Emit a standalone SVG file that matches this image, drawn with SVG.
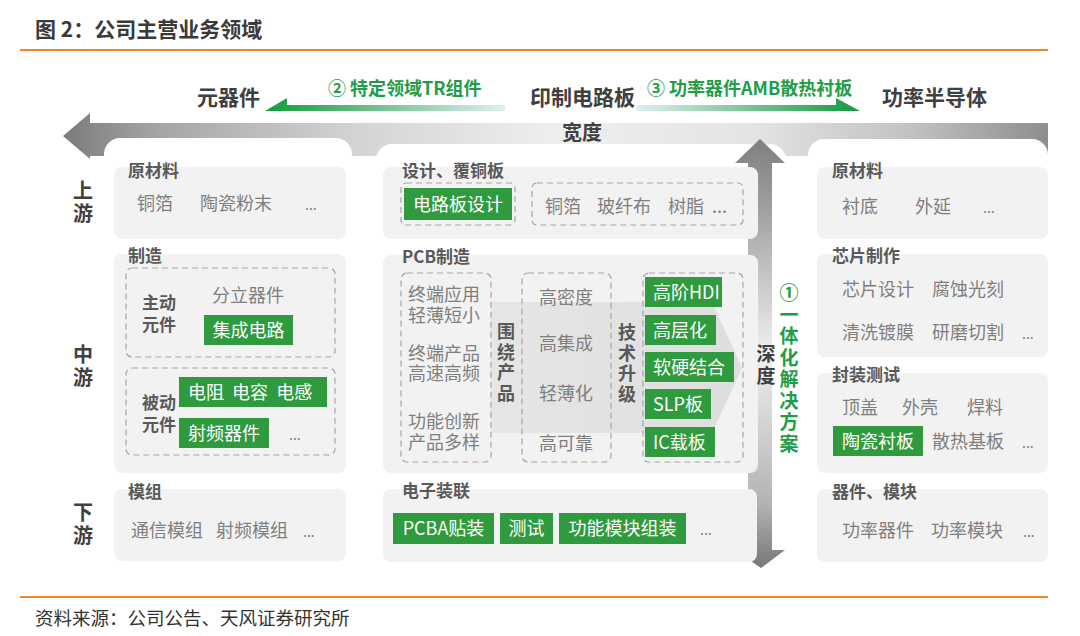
<svg xmlns="http://www.w3.org/2000/svg" width="1080" height="636" viewBox="0 0 1080 636">
<defs>
<linearGradient id="gBand" gradientUnits="userSpaceOnUse" x1="63" y1="0" x2="1048" y2="0">
<stop offset="0" stop-color="#7b7b7b"/><stop offset="0.1" stop-color="#a6a6a6"/><stop offset="0.3" stop-color="#d4d4d4"/><stop offset="0.5" stop-color="#efefef"/><stop offset="0.7" stop-color="#e4e4e4"/><stop offset="0.86" stop-color="#c2c2c2"/><stop offset="1" stop-color="#8e8e8e"/>
</linearGradient>
<linearGradient id="gVert" gradientUnits="userSpaceOnUse" x1="0" y1="139" x2="0" y2="568">
<stop offset="0" stop-color="#7f7f7f"/><stop offset="0.15" stop-color="#9d9d9d"/><stop offset="0.5" stop-color="#f0f0f0"/><stop offset="0.85" stop-color="#b3b3b3"/><stop offset="1" stop-color="#777"/>
</linearGradient>
<linearGradient id="gLeft" gradientUnits="userSpaceOnUse" x1="265" y1="0" x2="505" y2="0">
<stop offset="0" stop-color="#139a3c"/><stop offset="0.35" stop-color="#5bb77a"/><stop offset="1" stop-color="#e2eff0"/>
</linearGradient>
<linearGradient id="gRight" gradientUnits="userSpaceOnUse" x1="636" y1="0" x2="860" y2="0">
<stop offset="0" stop-color="#e2eff0"/><stop offset="0.65" stop-color="#5bb77a"/><stop offset="1" stop-color="#139a3c"/>
</linearGradient>
<linearGradient id="gChev" gradientUnits="userSpaceOnUse" x1="491" y1="0" x2="742" y2="0">
<stop offset="0" stop-color="#e6e6e6"/><stop offset="1" stop-color="#dedede"/>
</linearGradient>
</defs>
<style>
text{font-family:"Noto Sans CJK SC","Noto Sans",sans-serif}
.tight{font-family:"Liberation Sans","Noto Sans CJK SC",sans-serif}
.ttl{font-size:21px;font-weight:bold;fill:#3a3a3a}
.src{font-size:18.5px;fill:#333}
.lbl{font-size:21px;font-weight:bold;fill:#404040}
.glbl{font-size:18px;font-weight:bold;fill:#1f9d48}
.side{font-size:20px;font-weight:bold;fill:#404040;text-anchor:middle}
.pt{font-size:17px;font-weight:bold;fill:#595959}
.it{font-size:18px;fill:#7f7f7f}
.dots{font-size:14px;fill:#7f7f7f}
.sub{font-size:17px;font-weight:bold;fill:#595959}
.vt{font-size:18px;font-weight:bold;fill:#595959;text-anchor:middle}
.panel{fill:#f2f2f2}
.dash{fill:none;stroke:#a6a6a6;stroke-width:1.2;stroke-dasharray:6 4}
.gb{fill:#2f9a3e}
.gt{font-size:18px;fill:#fff}
.gtc{font-size:18px;fill:#fff;text-anchor:middle}
.orange{stroke:#f0882e;stroke-width:2}
</style>
<rect width="1080" height="636" fill="#fff"/>
<text class="ttl" x="35" y="37">图 2：公司主营业务领域</text>
<line class="orange" x1="20" y1="50" x2="1048" y2="50"/>
<line class="orange" x1="20" y1="597" x2="1048" y2="597"/>
<text class="src" x="35" y="625">资料来源：公司公告、天风证券研究所</text>

<g id="connectors">
<polygon points="63,136 90,113 90,123 1048,123 1048,156 90,156 90,159" fill="url(#gBand)"/>
<rect x="104" y="138" width="248" height="60" rx="16" fill="#fff"/>
<rect x="376" y="144" width="410" height="60" rx="16" fill="#fff"/>
<rect x="808" y="139" width="240" height="60" rx="16" fill="#fff"/>
<polygon points="760,139 785,163 772,163 772,550 785,550 761,568 735,550 748,550 748,163 735,163" fill="url(#gVert)"/>
<polygon points="265,111 287,98 287,105 505,105 505,111" fill="url(#gLeft)"/>
<polygon points="636,105 836,105 836,98 860,111 636,111" fill="url(#gRight)"/>
</g>

<g id="top-labels">
<text class="lbl" x="197" y="105">元器件</text>
<text class="glbl" x="328" y="95">② 特定领域TR组件</text>
<text class="lbl" x="530" y="105">印制电路板</text>
<text class="glbl" x="647" y="95">③ 功率器件AMB散热衬板</text>
<text class="lbl" x="882" y="105">功率半导体</text>
<text class="lbl" x="582" y="140" text-anchor="middle" style="font-size:20px">宽度</text>
</g>

<g id="side-labels">
<text class="side tight"><tspan x="83" y="198">上</tspan><tspan x="83" y="221">游</tspan></text>
<text class="side tight"><tspan x="83" y="362">中</tspan><tspan x="83" y="385">游</tspan></text>
<text class="side tight"><tspan x="83" y="520">下</tspan><tspan x="83" y="543">游</tspan></text>
</g>

<g id="left-raw">
<rect class="panel" x="114" y="167" width="232" height="72" rx="8"/>
<text class="pt" x="128" y="177">原材料</text>
<text class="it" x="137" y="209.5">铜箔</text>
<text class="it" x="200" y="209.5">陶瓷粉末</text>
<text class="dots" x="305" y="209.5">...</text>
</g>

<g id="left-mfg">
<rect class="panel" x="114" y="254" width="232" height="219" rx="8"/>
<text class="pt" x="128" y="262">制造</text>
<rect class="dash" x="126" y="268" width="209" height="89" rx="6"/>
<text class="sub tight"><tspan x="142" y="309">主动</tspan><tspan x="142" y="331">元件</tspan></text>
<text class="it" x="212" y="301.5">分立器件</text>
<rect class="gb" x="204" y="315" width="89" height="30"/>
<text class="gtc" x="248.5" y="336.5">集成电路</text>
<rect class="dash" x="126" y="368" width="209" height="87" rx="6"/>
<text class="sub tight"><tspan x="142" y="409">被动</tspan><tspan x="142" y="431">元件</tspan></text>
<rect class="gb" x="179" y="377" width="148" height="30"/>
<text class="gt" x="188" y="398.5" xml:space="preserve">电阻  电容  电感</text>
<rect class="gb" x="179" y="418" width="90" height="30"/>
<text class="gtc" x="224" y="439.5">射频器件</text>
<text class="dots" x="289" y="440">...</text>
</g>

<g id="left-module">
<rect class="panel" x="114" y="489" width="232" height="72" rx="8"/>
<text class="pt" x="128" y="498">模组</text>
<text class="it" x="131" y="536.5">通信模组</text>
<text class="it" x="216" y="536.5">射频模组</text>
<text class="dots" x="303" y="536.5">...</text>
</g>

<g id="mid-design">
<rect class="panel" x="383" y="167" width="375" height="72" rx="8"/>
<text class="pt" x="402" y="177">设计、覆铜板</text>
<rect class="dash" x="401" y="183" width="114" height="42" rx="5"/>
<rect class="gb" x="404" y="188" width="108" height="32"/>
<text class="gtc" x="458" y="210.5">电路板设计</text>
<rect class="dash" x="532" y="183" width="211" height="42" rx="5"/>
<text class="it" x="545" y="212.5">铜箔</text>
<text class="it" x="597" y="212.5">玻纤布</text>
<text class="it" x="668" y="212.5">树脂</text>
<text class="it" x="712" y="212.5">...</text>
</g>

<g id="mid-pcb">
<rect class="panel" x="383" y="255" width="375" height="218" rx="8"/>
<text class="pt" x="402" y="263">PCB制造</text>
<polygon points="491,302 712,302 742,368 712,433 491,433" fill="url(#gChev)"/>
<rect class="dash" x="401" y="273" width="90" height="189" rx="6"/>
<text class="it tight"><tspan x="408" y="301">终端应用</tspan><tspan x="408" y="321.5">轻薄短小</tspan></text>
<text class="it tight"><tspan x="408" y="359.5">终端产品</tspan><tspan x="408" y="380">高速高频</tspan></text>
<text class="it tight"><tspan x="408" y="428">功能创新</tspan><tspan x="408" y="448.5">产品多样</tspan></text>
<text class="vt tight"><tspan x="506" y="338">围</tspan><tspan x="506" y="358.5">绕</tspan><tspan x="506" y="379">产</tspan><tspan x="506" y="399.5">品</tspan></text>
<rect class="dash" x="522" y="273" width="89" height="189" rx="6"/>
<text class="it" x="566" y="303.5" text-anchor="middle">高密度</text>
<text class="it" x="566" y="349.5" text-anchor="middle">高集成</text>
<text class="it" x="566" y="399.5" text-anchor="middle">轻薄化</text>
<text class="it" x="566" y="449.5" text-anchor="middle">高可靠</text>
<text class="vt tight"><tspan x="627" y="339">技</tspan><tspan x="627" y="359.5">术</tspan><tspan x="627" y="380">升</tspan><tspan x="627" y="400.5">级</tspan></text>
<rect class="dash" x="643" y="273" width="100" height="189" rx="6"/>
<rect class="gb" x="645" y="277" width="77" height="30"/><text class="gt" x="653" y="298.5">高阶HDI</text>
<rect class="gb" x="645" y="315" width="71" height="30"/><text class="gt" x="653" y="336.5">高层化</text>
<rect class="gb" x="645" y="352" width="89" height="30"/><text class="gt" x="653" y="373.5">软硬结合</text>
<rect class="gb" x="645" y="389" width="66" height="30"/><text class="gt" x="653" y="410.5">SLP板</text>
<rect class="gb" x="645" y="427" width="70" height="30"/><text class="gt" x="653" y="448.5">IC载板</text>
</g>

<g id="mid-assembly">
<rect class="panel" x="383" y="489" width="374" height="73" rx="8"/>
<text class="pt" x="402" y="497">电子装联</text>
<rect class="gb" x="393" y="513" width="101" height="31"/><text class="gtc" x="443.5" y="535">PCBA贴装</text>
<rect class="gb" x="500" y="513" width="53" height="31"/><text class="gtc" x="526.5" y="535">测试</text>
<rect class="gb" x="559" y="513" width="127" height="31"/><text class="gtc" x="622.5" y="535">功能模块组装</text>
<text class="dots" x="700" y="535">...</text>
</g>

<g id="depth-labels">
<text class="lbl tight" text-anchor="middle" style="font-size:19px"><tspan x="766" y="361">深</tspan><tspan x="766" y="382.5">度</tspan></text>
<text class="glbl tight" text-anchor="middle" style="font-size:19px"><tspan x="789" y="300">①</tspan><tspan x="789" y="321.5">一</tspan><tspan x="789" y="343">体</tspan><tspan x="789" y="364.5">化</tspan><tspan x="789" y="386">解</tspan><tspan x="789" y="407.5">决</tspan><tspan x="789" y="429">方</tspan><tspan x="789" y="450.5">案</tspan></text>
</g>

<g id="right-raw">
<rect class="panel" x="817" y="167" width="231" height="72" rx="8"/>
<text class="pt" x="832" y="177">原材料</text>
<text class="it" x="842" y="212.5">衬底</text>
<text class="it" x="915" y="212.5">外延</text>
<text class="dots" x="983" y="212.5">...</text>
</g>

<g id="right-chip">
<rect class="panel" x="817" y="254" width="231" height="103" rx="8"/>
<text class="pt" x="832" y="262">芯片制作</text>
<text class="it" x="842" y="295.5">芯片设计</text>
<text class="it" x="932" y="295.5">腐蚀光刻</text>
<text class="it" x="842" y="338.5">清洗镀膜</text>
<text class="it" x="932" y="338.5">研磨切割</text>
<text class="dots" x="1022" y="338.5">...</text>
</g>

<g id="right-package">
<rect class="panel" x="817" y="373" width="231" height="100" rx="8"/>
<text class="pt" x="832" y="381">封装测试</text>
<text class="it" x="842" y="413.5">顶盖</text>
<text class="it" x="902" y="413.5">外壳</text>
<text class="it" x="967" y="413.5">焊料</text>
<rect class="gb" x="833" y="426" width="90" height="30"/><text class="gtc" x="878" y="447.5">陶瓷衬板</text>
<text class="it" x="932" y="447.5">散热基板</text>
<text class="dots" x="1022" y="447.5">...</text>
</g>

<g id="right-device">
<rect class="panel" x="817" y="489" width="231" height="73" rx="8"/>
<text class="pt" x="832" y="498">器件、模块</text>
<text class="it" x="842" y="537">功率器件</text>
<text class="it" x="931" y="537">功率模块</text>
<text class="dots" x="1023" y="537">...</text>
</g>
</svg>
